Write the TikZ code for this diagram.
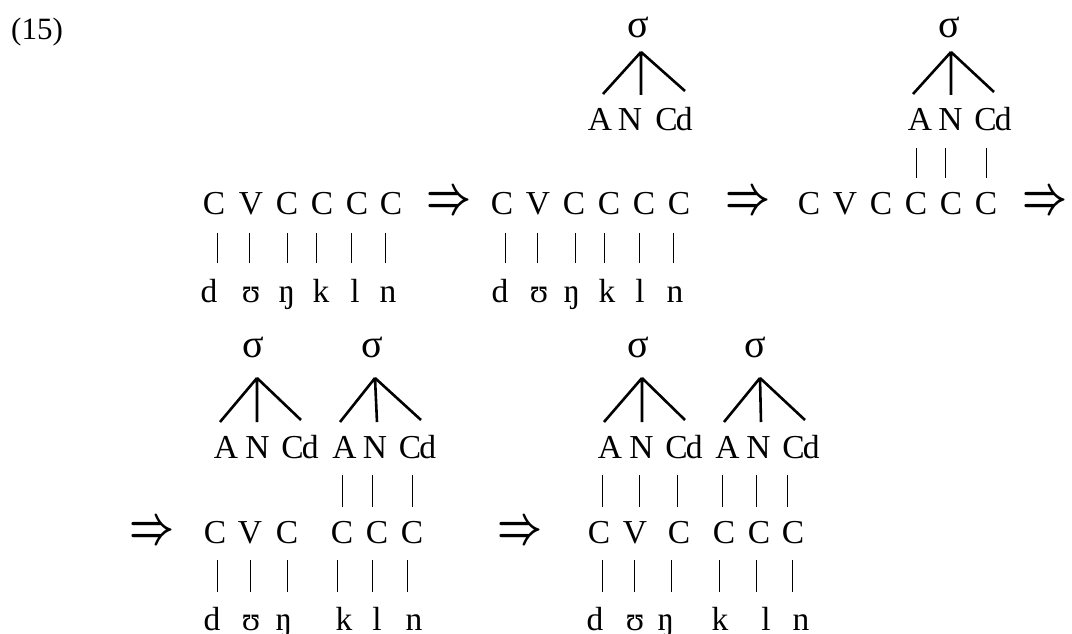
\documentclass[tikz,border=0pt]{standalone}
\usepackage{fontspec}
\usepackage{graphicx}
\setmainfont{Liberation Serif}
\tikzset{
  lt/.style={anchor=base,inner sep=0pt,font=\fontsize{33.5}{40}\selectfont},
  sig/.style={anchor=base,inner sep=0pt,font=\fontsize{40}{46}\selectfont},
  leg/.style={line width=2.6pt},
  bar/.style={line width=1pt},
  arr/.style={anchor=center,inner sep=0pt}
}
\newcommand\Arr{\resizebox{45pt}{21pt}{\boldmath$\Rightarrow$}}
\begin{document}
\begin{tikzpicture}[x=1pt,y=-1pt]
\useasboundingbox (0,0) rectangle (1072,634);
\node[anchor=base west,inner sep=0pt,font=\fontsize{31}{36}\selectfont] (num) at (11,40) {(15)};

% ---------- Row 1, structure 1
\foreach \x/\t [count=\i] in {214/C,251/V,287/C,322/C,357/C,391/C}
  \node[lt] (a\i) at (\x,214) {\t};
\foreach \x in {217,249,287,316,351,385} \draw[bar] (\x,233) -- (\x,263);
\foreach \x/\t [count=\i] in {209/d,251/ʊ,287/ŋ,321/k,355/l,388/n}
  \node[lt] (ap\i) at (\x,302) {\t};
\node[arr] (arr1) at (449.5,203) {\Arr};

% ---------- Row 1, structure 2
\foreach \x/\t [count=\i] in {502/C,538/V,574/C,609/C,644/C,679/C}
  \node[lt] (b\i) at (\x,214) {\t};
\foreach \x in {505,537,575,604,639,673} \draw[bar] (\x,233) -- (\x,263);
\foreach \x/\t [count=\i] in {500/d,539/ʊ,572/ŋ,607/k,640/l,675/n}
  \node[lt] (bp\i) at (\x,302) {\t};
\node[sig] (bs) at (638,38) {σ};
\coordinate (bt) at (641,52);
\draw[leg] (bt) -- (603,94) (bt) -- (641,95) (bt) -- (685,91);
\node[lt] (bA) at (600,130) {A};
\node[lt] (bN) at (630,130) {N};
\node[lt] (bC) at (674,130) {C\kern-2pt d};
\node[arr] (arr2) at (748,203) {\Arr};

% ---------- Row 1, structure 3
\foreach \x/\t [count=\i] in {809/C,845/V,881/C,916/C,951/C,986/C}
  \node[lt] (c\i) at (\x,214) {\t};
\node[sig] (cs) at (949,38) {σ};
\coordinate (ct) at (951,52);
\draw[leg] (ct) -- (913,94) (ct) -- (951,95) (ct) -- (994,92);
\node[lt] (cA) at (920,130) {A};
\node[lt] (cN) at (950.5,130) {N};
\node[lt] (cC) at (993,130) {C\kern-2pt d};
\foreach \x in {916,945,986} \draw[bar] (\x,148) -- (\x,178);
\node[arr] (arr3) at (1045,203) {\Arr};

% ---------- Row 2, structure 4
\node[arr] (arr4) at (152.5,532.5) {\Arr};
\node[sig] (ds1) at (253,357) {σ};
\coordinate (dt1) at (257,378);
\draw[leg] (dt1) -- (220,422) (dt1) -- (257,422) (dt1) -- (301,420);
\node[sig] (ds2) at (372,357) {σ};
\coordinate (dt2) at (375,378);
\draw[leg] (dt2) -- (340,422) (dt2) -- (377,422) (dt2) -- (421,420);
\node[lt] (dA1) at (226,458) {A};
\node[lt] (dN1) at (257.5,458) {N};
\node[lt] (dC1) at (300,458) {C\kern-2pt d};
\node[lt] (dA2) at (344.5,458) {A};
\node[lt] (dN2) at (375,458) {N};
\node[lt] (dC2) at (417.5,458) {C\kern-2pt d};
\foreach \x in {342,372,412} \draw[bar] (\x,475) -- (\x,507);
\foreach \x/\t [count=\i] in {215/C,250/V,287/C,342/C,377/C,412/C}
  \node[lt] (d\i) at (\x,543) {\t};
\foreach \x in {217,250,287,337,372,407} \draw[bar] (\x,560) -- (\x,592);
\foreach \x/\t [count=\i] in {212/d,251/ʊ,284/ŋ,344/k,377/l,414/n}
  \node[lt] (dp\i) at (\x,630) {\t};

% ---------- Row 2, structure 5
\node[arr] (arr5) at (520,532.5) {\Arr};
\node[sig] (es1) at (638,357) {σ};
\coordinate (et1) at (642,378);
\draw[leg] (et1) -- (604,422) (et1) -- (642,422) (et1) -- (685,420);
\node[sig] (es2) at (755,357) {σ};
\coordinate (et2) at (760,378);
\draw[leg] (et2) -- (724,422) (et2) -- (761,422) (et2) -- (805,420);
\node[lt] (eA1) at (610,458) {A};
\node[lt] (eN1) at (641.5,458) {N};
\node[lt] (eC1) at (684,458) {C\kern-2pt d};
\node[lt] (eA2) at (727.5,458) {A};
\node[lt] (eN2) at (758.5,458) {N};
\node[lt] (eC2) at (801,458) {C\kern-2pt d};
\foreach \x in {602,639,677,722,756,787} \draw[bar] (\x,475) -- (\x,507);
\foreach \x/\t [count=\i] in {599/C,635/V,679/C,724/C,759/C,793/C}
  \node[lt] (e\i) at (\x,543) {\t};
\foreach \x in {602,634,671,719,756,792} \draw[bar] (\x,560) -- (\x,592);
\foreach \x/\t [count=\i] in {595/d,635/ʊ,666/ŋ,720/k,766/l,801/n}
  \node[lt] (ep\i) at (\x,630) {\t};
\end{tikzpicture}
\end{document}
